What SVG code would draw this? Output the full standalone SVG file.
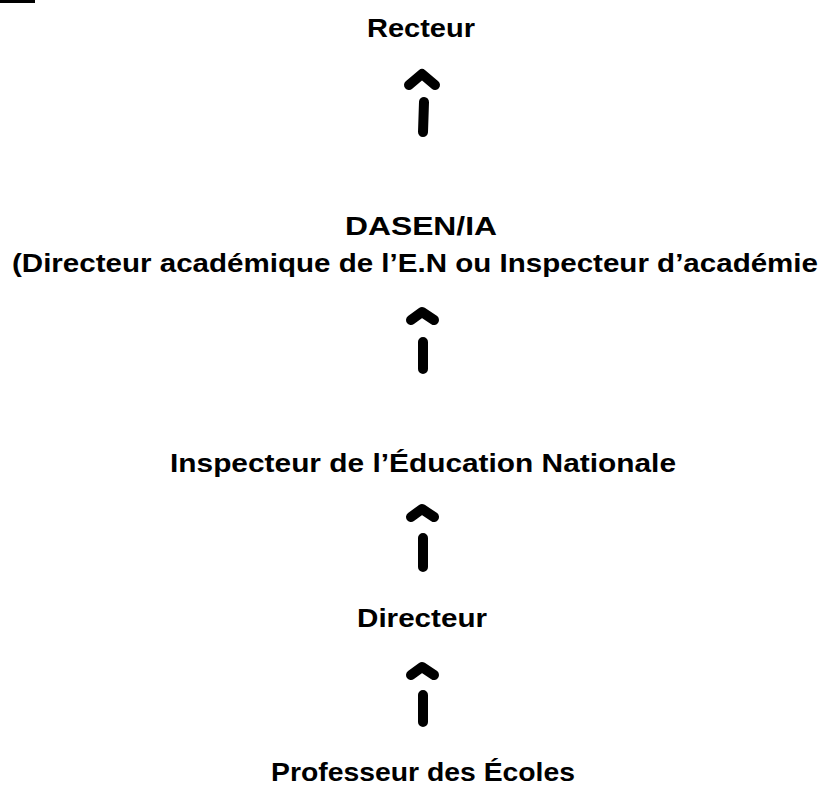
<svg xmlns="http://www.w3.org/2000/svg" width="833" height="787" viewBox="0 0 833 787">
<style>
.t{font-family:"Liberation Sans",Arial,sans-serif;font-weight:bold;font-size:26px;fill:#000}
.a{fill:none;stroke:#000;stroke-width:10;stroke-linecap:round;stroke-linejoin:round}
</style>
<rect x="0" y="0" width="35" height="3" fill="#000"/>
<g id="recteur"><text class="t" x="367" y="37" textLength="108" lengthAdjust="spacingAndGlyphs">Recteur</text></g>
<g id="dasen">
<text class="t" x="345" y="235" textLength="152" lengthAdjust="spacingAndGlyphs">DASEN/IA</text>
<text class="t" x="12" y="272" textLength="806" lengthAdjust="spacingAndGlyphs">(Directeur académique de l’E.N ou Inspecteur d’académie</text>
</g>
<g id="ien"><text class="t" x="170" y="472" textLength="506" lengthAdjust="spacingAndGlyphs">Inspecteur de l’Éducation Nationale</text></g>
<g id="directeur"><text class="t" x="357" y="627" textLength="130" lengthAdjust="spacingAndGlyphs">Directeur</text></g>
<g id="professeur"><text class="t" x="271" y="781" textLength="304" lengthAdjust="spacingAndGlyphs">Professeur des Écoles</text></g>
<g id="connectors">
<path class="a" d="M409 85 L422 74 L435 85 M424 102 L423 132"/>
<path class="a" d="M411 320 L422 312 L434 320 M423 342 L423 369"/>
<path class="a" d="M411 517 L422 509 L434 517 M423 538 L423 567"/>
<path class="a" d="M411 675 L422 667 L434 675 M423 695 L423 722"/>
</g>
</svg>
